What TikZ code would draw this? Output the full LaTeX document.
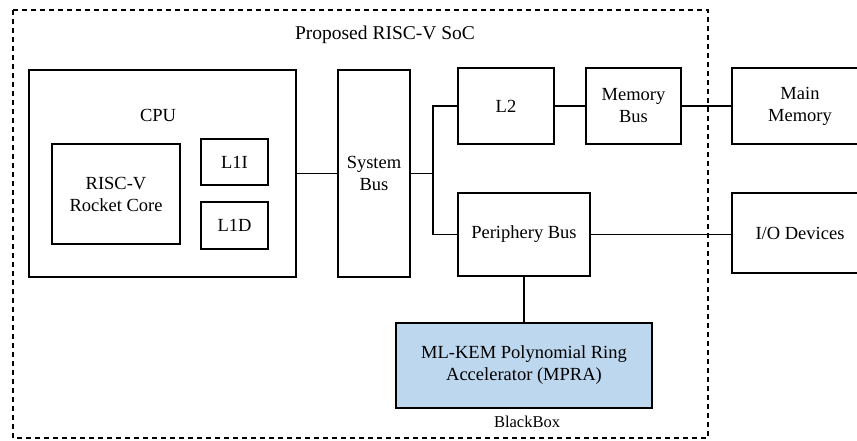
\documentclass[tikz,border=0pt]{standalone}
\usepackage{fontspec}
\setmainfont{Liberation Serif}
\definecolor{mpra}{HTML}{BDD7EE}
\begin{document}
\begin{tikzpicture}[x=1pt,y=-1pt,
  box/.style={draw,line width=1.7pt,inner sep=0pt,align=center,font=\fontsize{18.5}{22}\selectfont},
  lbl/.style={inner sep=0pt,font=\fontsize{18.5}{22}\selectfont},
  wire/.style={line width=1.7pt}]
\useasboundingbox (0,0) rectangle (857,440);
\clip (0,0) rectangle (857,440);
\fill[white] (0,0) rectangle (857,440);
\draw[line width=1.3pt,dash pattern=on 5pt off 4pt] (13,10) rectangle (708,438);
\node[lbl,font=\fontsize{19.5}{22}\selectfont] (title) at (385,35) {Proposed RISC-V SoC};
\node[box,minimum width=267pt,minimum height=207pt] (cpu) at (162.5,173.5) {};
\node[lbl] (cpul) at (158,115) {CPU};
\node[box,minimum width=128pt,minimum height=100pt] (core) at (116,194) {RISC-V\\Rocket Core};
\node[box,minimum width=67pt,minimum height=46pt] (l1i) at (234.5,162) {L1I};
\node[box,minimum width=67pt,minimum height=47pt] (l1d) at (234.5,225.5) {L1D};
\node[box,minimum width=72pt,minimum height=207pt] (sys) at (374,173.5) {System\\Bus};
\node[box,minimum width=96pt,minimum height=76pt] (l2) at (506,106) {L2};
\node[box,minimum width=95pt,minimum height=76pt] (mem) at (633.5,106) {Memory\\Bus};
\node[box,minimum width=136pt,minimum height=76pt] (main) at (800,106) {Main\\Memory};
\node[box,minimum width=132pt,minimum height=83pt] (per) at (524,234.5) {Periphery Bus};
\node[box,minimum width=136pt,minimum height=80pt] (io) at (800,233) {I/O Devices};
\node[box,fill=mpra,minimum width=256pt,minimum height=85pt] (mpra) at (524,365.5) {ML-KEM Polynomial Ring\\Accelerator (MPRA)};
\node[lbl,font=\fontsize{16.5}{18}\selectfont] (bb) at (527,422) {BlackBox};
\coordinate (split) at (433,173.5);
\draw[wire] (cpu.east) -- (sys.west);
\draw[wire] (sys.east) -- (split);
\draw[wire] (l2.west) -| (split) |- (per.west);
\draw[wire] (l2.east) -- (mem.west);
\draw[wire] (mem.east) -- (main.west);
\draw[wire] (per.east) -- (per.east -| io.west);
\draw[wire] (per.south) -- (mpra.north);
\end{tikzpicture}
\end{document}
